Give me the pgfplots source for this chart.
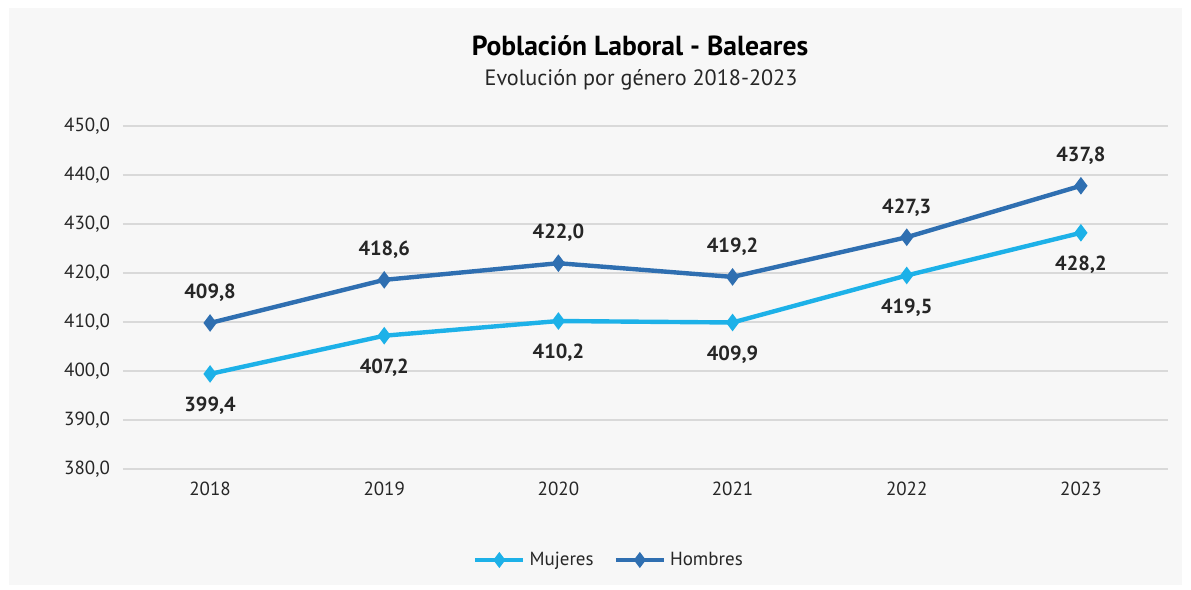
\documentclass[border=0pt]{standalone}
\usepackage{pgfplots}
\pgfplotsset{compat=1.18}
\usepackage{fontspec}
\setmainfont{PT Sans}
\definecolor{muj}{HTML}{1DB1E8}
\definecolor{hom}{HTML}{2F6FB1}
\definecolor{bg}{HTML}{F7F7F7}
\definecolor{gridc}{HTML}{D9D9D9}
\definecolor{txt}{HTML}{262626}
\begin{document}
\begin{tikzpicture}
\fill[white] (0pt,0pt) rectangle (595.5pt,295pt);
\fill[bg] (4.5pt,2.5pt) rectangle (591pt,291pt);
\node[font=\bfseries\fontsize{13.8}{15}\selectfont, text=black] at (320pt,272pt) {Población Laboral - Baleares};
\node[font=\fontsize{11.1}{13}\selectfont, text=txt] at (320.5pt,255pt) {Evolución por género 2018-2023};
\begin{axis}[
  at={(61.5pt,60.5pt)}, anchor=south west,
  scale only axis, width=522.5pt, height=171.5pt,
  xmin=-0.5, xmax=5.5, ymin=380, ymax=450,
  xtick={0,1,2,3,4,5},
  xticklabels={2018,2019,2020,2021,2022,2023},
  ytick={380,390,...,450},
  ymajorgrids, grid style={gridc, line width=0.8pt},
  axis line style={draw=none},
  major tick length=0pt,
  tick label style={font=\fontsize{9.5}{11}\selectfont, text=txt},
  yticklabel style={xshift=-3pt},
  xticklabel style={yshift=-3pt},
  legend style={at={(0.466,0)}, anchor=center, yshift=-45.5pt, draw=none, fill=none,
    legend columns=2, font=\fontsize{9.5}{11}\selectfont, text=txt,
    /tikz/every even column/.append style={column sep=8pt}},
  legend image code/.code={\draw[mark repeat=2,mark phase=2,mark size=2.2pt,#1] plot coordinates {(0pt,0pt)(12pt,0pt)(24pt,0pt)};},
  legend cell align=left,
  nodes near coords,
  nodes near coords style={font=\bfseries\fontsize{10.2}{12}\selectfont, text=txt},
  /pgf/number format/.cd, assume math mode=true, use comma, fixed, fixed zerofill, precision=1,
]
\addplot[muj, line width=2.2pt, mark=diamond*, mark size=2.6pt,
  every node near coord/.append style={anchor=center, yshift=-16pt}]
  coordinates {(0,399.4) (1,407.2) (2,410.2) (3,409.9) (4,419.5) (5,428.2)};
\addlegendentry{Mujeres}
\addplot[hom, line width=2.2pt, mark=diamond*, mark size=2.6pt,
  every node near coord/.append style={anchor=center, yshift=15pt}]
  coordinates {(0,409.8) (1,418.6) (2,422.0) (3,419.2) (4,427.3) (5,437.8)};
\addlegendentry{Hombres}
\end{axis}
\end{tikzpicture}
\end{document}
